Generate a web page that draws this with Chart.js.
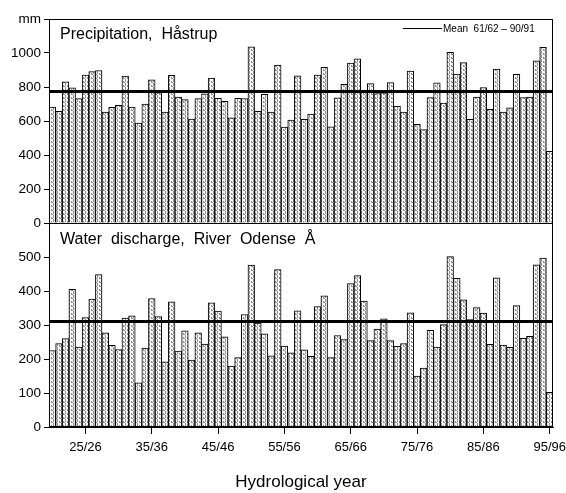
<!DOCTYPE html>
<html>
<head>
<meta charset="utf-8">
<script src="https://cdn.jsdelivr.net/npm/chart.js@4"></script>
<style>
  html, body { margin: 0; background: #fff; }
  canvas { display: block; }
</style>
</head>
<body>
<canvas id="chart" width="566" height="493"></canvas>
<script>
const years = [
  "20/21", "21/22", "22/23", "23/24", "24/25", "25/26", "26/27", "27/28", "28/29", "29/30",
  "30/31", "31/32", "32/33", "33/34", "34/35", "35/36", "36/37", "37/38", "38/39", "39/40",
  "40/41", "41/42", "42/43", "43/44", "44/45", "45/46", "46/47", "47/48", "48/49", "49/50",
  "50/51", "51/52", "52/53", "53/54", "54/55", "55/56", "56/57", "57/58", "58/59", "59/60",
  "60/61", "61/62", "62/63", "63/64", "64/65", "65/66", "66/67", "67/68", "68/69", "69/70",
  "70/71", "71/72", "72/73", "73/74", "74/75", "75/76", "76/77", "77/78", "78/79", "79/80",
  "80/81", "81/82", "82/83", "83/84", "84/85", "85/86", "86/87", "87/88", "88/89", "89/90",
  "90/91", "91/92", "92/93", "93/94", "94/95", "95/96"
];
const labelledYears = ["25/26", "35/36", "45/46", "55/56", "65/66", "75/76", "85/86", "95/96"];

// precipitation, Håstrup (mm)
const precipitation = [
  682, 657, 830, 795, 732, 870, 890, 897, 653, 680,
  692, 864, 682, 588, 700, 842, 767, 653, 868, 740,
  726, 611, 732, 760, 852, 734, 716, 619, 734, 732,
  1036, 657, 757, 653, 929, 564, 606, 866, 610, 640,
  870, 915, 566, 736, 815, 940, 965, 782, 820, 762,
  765, 826, 687, 652, 894, 580, 550, 738, 825, 706,
  1004, 876, 943, 610, 740, 797, 669, 906, 652, 678,
  875, 738, 740, 954, 1034, 422
];
// water discharge, River Odense Å (mm)
const discharge = [
  225, 245, 260, 405, 235, 322, 376, 448, 277, 240,
  228, 320, 327, 130, 232, 378, 325, 192, 368, 223,
  283, 197, 277, 244, 365, 341, 265, 179, 204, 331,
  476, 306, 274, 209, 463, 238, 218, 342, 227, 208,
  354, 386, 204, 269, 257, 422, 445, 370, 254, 288,
  318, 254, 237, 245, 336, 150, 173, 284, 235, 301,
  501, 437, 374, 316, 351, 335, 243, 439, 241, 234,
  357, 261, 267, 477, 497, 102
];
const precipMean = 775;
const dischargeMean = 312;

const FONT = "'Liberation Sans', Arial, Helvetica, sans-serif";

// grey stipple like the printed bars
function stipple() {
  const c = document.createElement("canvas");
  c.width = 4;
  c.height = 4;
  const g = c.getContext("2d");
  g.fillStyle = "#f7f7f7";
  g.fillRect(0, 0, 4, 4);
  g.fillStyle = "#8f8f8f";
  [[1, 0], [1, 1], [3, 1], [3, 2], [1, 3], [0, 2]].forEach(([x, y]) => g.fillRect(x, y, 1, 1));
  return g.createPattern(c, "repeat");
}
const fill = stipple();

const panelDecor = {
  id: "panelDecor",
  afterDatasetsDraw(chart) {
    const { ctx, chartArea: a, scales } = chart;
    const top = scales.yP, bot = scales.yQ;
    ctx.save();
    ctx.strokeStyle = "#000";
    ctx.lineWidth = 3;
    [[top, precipMean], [bot, dischargeMean]].forEach(([s, m]) => {
      const y = Math.round(s.getPixelForValue(m)) + 0.5;
      ctx.beginPath();
      ctx.moveTo(a.left, y);
      ctx.lineTo(a.right, y);
      ctx.stroke();
    });

    ctx.lineWidth = 1;
    ctx.strokeRect(a.left + 0.5, top.top + 0.5, a.right - a.left - 1, top.bottom - top.top);
    ctx.strokeRect(a.left + 0.5, bot.top + 0.5, a.right - a.left - 1, bot.bottom - bot.top - 1);

    ctx.fillStyle = "#000";
    ctx.textBaseline = "alphabetic";
    ctx.font = "16px " + FONT;
    ctx.fillText("Precipitation,  Håstrup", a.left + 11, top.top + 20);
    ctx.fillText("Water  discharge,  River  Odense  Å", a.left + 11, bot.top + 21);

    ctx.lineWidth = 1;
    ctx.beginPath();
    ctx.moveTo(a.right - 150, top.top + 9.5);
    ctx.lineTo(a.right - 111, top.top + 9.5);
    ctx.stroke();
    ctx.font = "10px " + FONT;
    ctx.fillText("Mean  61/62 \u2013 90/91", a.right - 110, top.top + 13);
    ctx.restore();
  }
};

new Chart(document.getElementById("chart"), {
  type: "bar",
  data: {
    labels: years,
    datasets: [
      {
        label: "Precipitation",
        data: precipitation,
        yAxisID: "yP",
        grouped: false,
        backgroundColor: fill,
        borderColor: "#000",
        borderWidth: 1,
        barPercentage: 1,
        categoryPercentage: 1
      },
      {
        label: "Water discharge",
        data: discharge,
        yAxisID: "yQ",
        grouped: false,
        backgroundColor: fill,
        borderColor: "#000",
        borderWidth: 1,
        barPercentage: 1,
        categoryPercentage: 1
      }
    ]
  },
  options: {
    responsive: false,
    animation: false,
    layout: { padding: { top: 19, right: 13, left: 0, bottom: 0 } },
    plugins: { legend: { display: false }, tooltip: { enabled: false } },
    scales: {
      x: {
        type: "category",
        grid: {
          offset: false,
          drawOnChartArea: false,
          tickLength: 7,
          tickColor: (c) => labelledYears.includes(years[c.index]) ? "#000" : "rgba(0,0,0,0)"
        },
        border: { color: "#000" },
        ticks: {
          autoSkip: false,
          maxRotation: 0,
          color: "#000",
          font: { family: FONT, size: 13 },
          padding: 6,
          callback: (v, i) => labelledYears.includes(years[i]) ? years[i] : ""
        },
        title: {
          display: true,
          text: "Hydrological year",
          color: "#000",
          font: { family: FONT, size: 17 },
          padding: { top: 18, bottom: 0 }
        },
        afterFit: (s) => {
          s.height = 66;
          s.paddingLeft = 0;
          s.paddingRight = 0;
        }
      },
      yQ: {
        type: "linear",
        position: "left",
        stack: "panels",
        stackWeight: 1,
        min: 0,
        max: 600,
        grid: { drawOnChartArea: false, tickLength: 5, tickColor: "#000" },
        border: { color: "#000" },
        ticks: {
          stepSize: 100,
          color: "#000",
          font: { family: FONT, size: 13.5 },
          padding: 3,
          callback: (v) => v === 600 ? "" : v
        },
        afterFit: (s) => { s.width = 49; }
      },
      yP: {
        type: "linear",
        position: "left",
        stack: "panels",
        stackWeight: 1,
        min: 0,
        max: 1200,
        grid: { drawOnChartArea: false, tickLength: 5, tickColor: "#000" },
        border: { color: "#000" },
        ticks: {
          stepSize: 200,
          color: "#000",
          font: { family: FONT, size: 13.5 },
          padding: 3,
          callback: (v) => v === 1200 ? "mm" : v
        },
        afterFit: (s) => { s.width = 49; }
      }
    }
  },
  plugins: [panelDecor]
});
</script>
</body>
</html>
